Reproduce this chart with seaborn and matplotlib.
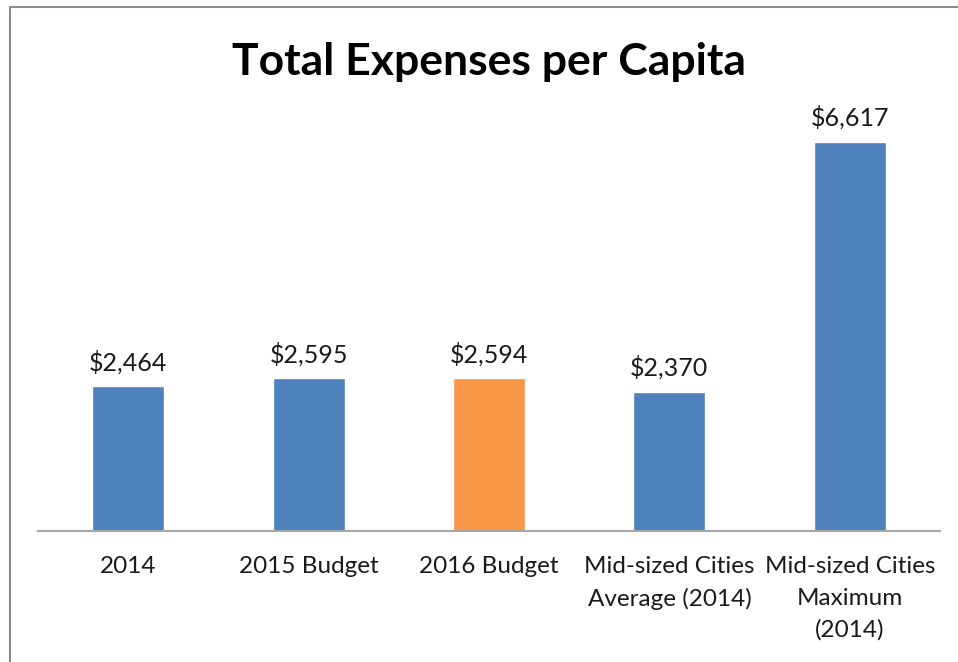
import matplotlib
matplotlib.use("Agg")
import matplotlib.pyplot as plt
import seaborn as sns
import pandas as pd

categories = ["2014", "2015 Budget", "2016 Budget",
              "Mid-sized Cities\nAverage (2014)",
              "Mid-sized Cities\nMaximum\n(2014)"]
values = [2464, 2595, 2594, 2370, 6617]
value_labels = ["$2,464", "$2,595", "$2,594", "$2,370", "$6,617"]
bar_colors = ["#4F81BD", "#4F81BD", "#F79646", "#4F81BD", "#4F81BD"]

df = pd.DataFrame({"category": categories, "value": values})

sns.set_theme(style="white")
plt.rcParams["font.family"] = ["Lato", "DejaVu Sans"]

fig = plt.figure(figsize=(9.58, 6.62), dpi=100)
ax = fig.add_axes([38 / 958, 1 - 531 / 662, 902 / 958, 412 / 662])

sns.barplot(data=df, x="category", y="value", hue="category",
            palette=bar_colors, width=0.4, legend=False, ax=ax,
            saturation=1)

ax.set_ylim(0, 7000)
ax.set_xlim(-0.5, len(categories) - 0.5)
ax.set_xlabel("")
ax.set_ylabel("")
ax.set_yticks([])
for side in ["top", "right", "left"]:
    ax.spines[side].set_visible(False)
ax.spines["bottom"].set_color("#A6A6A6")
ax.spines["bottom"].set_linewidth(1.5)
ax.tick_params(axis="x", length=0, pad=18, labelsize=17.5, colors="#1a1a1a")
for lbl in ax.get_xticklabels():
    lbl.set_linespacing(1.62)
    lbl.set_verticalalignment("top")

for i, (v, t) in enumerate(zip(values, value_labels)):
    ax.annotate(t, (i, v), xytext=(0, 8.5), textcoords="offset points",
                ha="center", va="bottom", fontsize=18, color="#1a1a1a")

fig.text(489 / 958, 1 - 62 / 662, "Total Expenses per Capita",
         ha="center", va="center", fontsize=32, fontweight="bold", color="black")

# Chart frame (left and top edges)
fig.add_artist(plt.Line2D([9.5 / 958, 9.5 / 958], [0, 1 - 7 / 662],
                          color="#8C8C8C", lw=1.5, transform=fig.transFigure))
fig.add_artist(plt.Line2D([9.5 / 958, 1], [1 - 7 / 662, 1 - 7 / 662],
                          color="#8C8C8C", lw=1.5, transform=fig.transFigure))

fig.savefig("out.png", dpi=100)
